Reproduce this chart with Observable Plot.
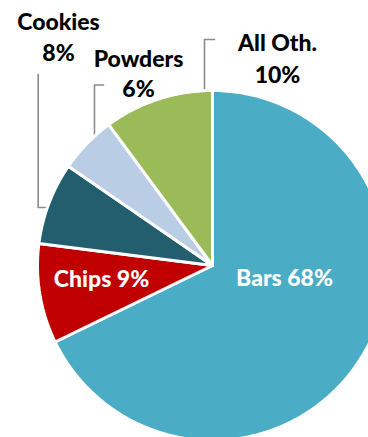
<!DOCTYPE html>
<html>
<head>
<meta charset="utf-8">
<script src="https://cdn.jsdelivr.net/npm/d3@7"></script>
<script src="https://cdn.jsdelivr.net/npm/@observablehq/plot@0.6"></script>
<style>
  html, body { margin: 0; padding: 0; background: #fff; }
  #chart svg { display: block; }
</style>
</head>
<body>
<div id="chart"></div>
<script>
// ---- data ----
const categories = ["Bars", "Chips", "Cookies", "Powders", "All Oth."];
const shares = [67.8, 9.2, 7.6, 5.3, 10.1];       // slice sizes as drawn
const labels = ["68%", "9%", "8%", "6%", "10%"];  // printed labels
const colors = ["#4BACC6", "#C00000", "#235E6E", "#B9CDE5", "#9BBB59"];

// ---- layout (pixels) ----
const W = 368, H = 437;
const cx = 212, cy = 265, r = 175;
const labelLayout = [
  {inside: true, x: 284, y: 285},
  {inside: true, x: 101, y: 286},
  {inside: false, x: 58, y1: 29, y2: 60, leader: [[37.7, 74], [37.7, 207], [50, 207]]},
  {inside: false, x: 138, y1: 66, y2: 96, leader: [[103, 84.5], [94, 84.5], [94, 140]]},
  {inside: false, x: 277, y1: 50, y2: 82, leader: [[214, 39], [204, 39], [204, 95]]}
];

// ---- geometry from data ----
const arcs = d3.pie().sort(null).value(d => d)(shares);
const wedgePts = [];
arcs.forEach((a, i) => {
  const n = Math.max(2, Math.ceil((a.endAngle - a.startAngle) * 180 / Math.PI));
  wedgePts.push({k: i, x: cx, y: cy});
  for (let j = 0; j <= n; j++) {
    const t = a.startAngle + (a.endAngle - a.startAngle) * j / n;
    wedgePts.push({k: i, x: cx + r * Math.sin(t), y: cy - r * Math.cos(t)});
  }
  wedgePts.push({k: i, x: cx, y: cy});
});

const leaderPts = [];
labelLayout.forEach((L, i) => {
  if (L.leader) L.leader.forEach(p => leaderPts.push({k: i, x: p[0], y: p[1]}));
});

const texts = [];
labelLayout.forEach((L, i) => {
  if (L.inside) {
    texts.push({x: L.x, y: L.y, t: categories[i] + " " + labels[i], c: "#ffffff"});
  } else {
    texts.push({x: L.x, y: L.y1, t: categories[i], c: "#000000"});
    texts.push({x: L.x, y: L.y2, t: labels[i], c: "#000000"});
  }
});

const chart = Plot.plot({
  width: W,
  height: H,
  margin: 0,
  style: {background: "#fff", fontFamily: "Lato, 'Open Sans', sans-serif"},
  x: {domain: [0, W], range: [0, W], axis: null},
  y: {domain: [0, H], range: [0, H], axis: null},
  marks: [
    Plot.line(leaderPts, {x: "x", y: "y", z: "k", stroke: "#8c8c8c", strokeWidth: 1.6, curve: "linear"}),
    Plot.line(wedgePts, {
      x: "x", y: "y", z: "k",
      fill: d => colors[d.k],
      stroke: "#ffffff", strokeWidth: 3, strokeLinejoin: "miter", curve: "linear"
    }),
    Plot.text(texts, {
      x: "x", y: "y", text: "t", fill: "c",
      fontSize: 23, fontWeight: 900, textAnchor: "middle", lineAnchor: "bottom"
    })
  ]
});
document.getElementById("chart").appendChild(chart);
</script>
</body>
</html>
